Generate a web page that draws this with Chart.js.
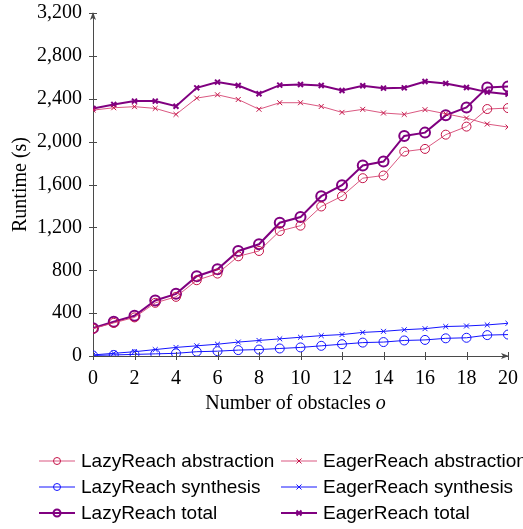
<!DOCTYPE html>
<html>
<head>
<meta charset="utf-8">
<script src="https://cdn.jsdelivr.net/npm/chart.js@4.4.1/dist/chart.umd.min.js"></script>
<style>
  html, body { margin: 0; padding: 0; background: #fff; }
  #wrap { width: 523px; height: 529px; }
</style>
</head>
<body>
<div id="wrap"><canvas id="mycanvas" width="523" height="529"></canvas></div>
<script>
// values
var obstacles = [0, 1, 2, 3, 4, 5, 6, 7, 8, 9, 10, 11, 12, 13, 14, 15, 16, 17, 18, 19, 20];
var lazyAbs = [255, 309, 360, 496, 552, 707, 769, 930, 980, 1166, 1216, 1395, 1491, 1659, 1684, 1907, 1932, 2065, 2140, 2304, 2313];
var lazySyn = [5, 10, 15, 20, 25, 40, 45, 55, 60, 70, 80, 95, 110, 125, 130, 145, 150, 165, 170, 195, 200];
var lazyTot = [260, 319, 375, 518, 580, 744, 809, 980, 1042, 1243, 1296, 1491, 1594, 1777, 1814, 2053, 2084, 2245, 2319, 2505, 2514];
var eagerAbs = [2294, 2316, 2326, 2310, 2254, 2406, 2437, 2393, 2302, 2363, 2363, 2328, 2273, 2301, 2267, 2254, 2298, 2260, 2220, 2164, 2136];
var eagerSyn = [10, 25, 40, 60, 80, 95, 110, 130, 145, 160, 175, 190, 200, 220, 230, 245, 255, 275, 280, 290, 305];
var eagerTot = [2310, 2347, 2378, 2378, 2330, 2502, 2555, 2524, 2447, 2527, 2533, 2524, 2477, 2521, 2499, 2502, 2561, 2543, 2505, 2462, 2443];
var yTicks = [0, 400, 800, 1200, 1600, 2000, 2400, 2800, 3200];
var xTicks = [0, 2, 4, 6, 8, 10, 12, 14, 16, 18, 20];

var RED = 'rgb(196,20,72)', RED_LINE = 'rgba(214,70,115,0.9)';
var BLUE = 'rgb(20,20,255)';
var PURPLE = 'rgb(128,0,128)';
var AXIS = '#4a4a4a';

function pts(vals) {
    var out = [];
    for (var i in vals) out.push({x: obstacles[i], y: vals[i]});
    return out;
}

function ds(label, vals, line, mark, style, width, radius) {
    return {
        label: label,
        data: pts(vals),
        borderColor: line,
        borderWidth: width,
        pointStyle: style,
        pointRadius: radius,
        pointBorderColor: mark,
        pointBorderWidth: width,
        pointBackgroundColor: 'rgba(0,0,0,0)',
        fill: false,
        tension: 0
    };
}

var datasets = [
    ds('LazyReach abstraction', lazyAbs, RED_LINE, RED, 'circle', 1, 4.5),
    ds('EagerReach abstraction', eagerAbs, RED_LINE, RED, 'crossRot', 1, 3.5),
    ds('LazyReach synthesis', lazySyn, BLUE, BLUE, 'circle', 1, 4.5),
    ds('EagerReach synthesis', eagerSyn, BLUE, BLUE, 'crossRot', 1, 3.5),
    ds('LazyReach total', lazyTot, PURPLE, PURPLE, 'circle', 2, 5),
    ds('EagerReach total', eagerTot, PURPLE, PURPLE, 'crossRot', 2, 3.5)
];

// legend entries in the order of the two-column reference legend
var legendRows = [
    [0, 1],
    [2, 3],
    [4, 5]
];

var decor = {
    id: 'decor',
    afterDraw: function(chart) {
        var ctx = chart.ctx;
        var xs = chart.scales.x, ys = chart.scales.y;
        var x0 = xs.getPixelForValue(0), yb = ys.getPixelForValue(0);
        var ytop = ys.getPixelForValue(3200), xr = xs.getPixelForValue(20);
        ctx.save();
        ctx.strokeStyle = AXIS;
        ctx.fillStyle = AXIS;
        ctx.lineWidth = 1;
        // tick marks crossing the axes
        ctx.beginPath();
        yTicks.forEach(function(v) {
            var p = Math.round(ys.getPixelForValue(v)) + 0.5;
            ctx.moveTo(x0 - 4, p); ctx.lineTo(x0 + 4, p);
        });
        xTicks.forEach(function(v) {
            var p = Math.round(xs.getPixelForValue(v)) + 0.5;
            ctx.moveTo(p, yb - 4); ctx.lineTo(p, yb + 4);
        });
        ctx.stroke();
        // arrow heads
        ctx.beginPath();
        ctx.moveTo(x0, ytop - 1);
        ctx.lineTo(x0 - 3, ytop + 7);
        ctx.lineTo(x0, ytop + 5);
        ctx.lineTo(x0 + 3, ytop + 7);
        ctx.closePath();
        ctx.fill();
        ctx.beginPath();
        ctx.moveTo(xr + 1, yb);
        ctx.lineTo(xr - 7, yb - 3);
        ctx.lineTo(xr - 5, yb);
        ctx.lineTo(xr - 7, yb + 3);
        ctx.closePath();
        ctx.fill();

        // x axis title with italic o
        var t1 = 'Number of obstacles ', t2 = 'o';
        ctx.fillStyle = '#000';
        ctx.textBaseline = 'middle';
        ctx.font = '20px "Liberation Serif"';
        var w1 = ctx.measureText(t1).width;
        ctx.font = 'italic 20px "Liberation Serif"';
        var w2 = ctx.measureText(t2).width;
        var cx = (chart.chartArea.left + chart.chartArea.right) / 2 - 5;
        var sx = cx - (w1 + w2) / 2;
        ctx.font = '20px "Liberation Serif"';
        ctx.textAlign = 'left';
        ctx.fillText(t1, sx, 404);
        ctx.font = 'italic 20px "Liberation Serif"';
        ctx.fillText(t2, sx + w1, 404);

        // legend
        var colX = [39, 281], rowY = [461, 487, 513];
        ctx.font = '19px "Liberation Sans"';
        legendRows.forEach(function(row, r) {
            row.forEach(function(idx, c) {
                var d = chart.data.datasets[idx];
                var lx = colX[c], ly = rowY[r];
                ctx.strokeStyle = d.borderColor;
                ctx.lineWidth = d.borderWidth;
                ctx.beginPath();
                ctx.moveTo(lx, ly); ctx.lineTo(lx + 36, ly);
                ctx.stroke();
                ctx.strokeStyle = d.pointBorderColor;
                ctx.beginPath();
                var mx = lx + 18, rr = 3.5;
                if (d.pointStyle === 'circle') {
                    ctx.arc(mx, ly, rr, 0, Math.PI * 2);
                } else {
                    ctx.moveTo(mx - 2.5, ly - 2.5); ctx.lineTo(mx + 2.5, ly + 2.5);
                    ctx.moveTo(mx + 2.5, ly - 2.5); ctx.lineTo(mx - 2.5, ly + 2.5);
                }
                ctx.stroke();
                ctx.fillStyle = '#000';
                ctx.fillText(d.label, lx + 42, ly + 1);
            });
        });
        ctx.restore();
    }
};

var ctx = document.getElementById('mycanvas');
var LineGraph = new Chart(ctx, {
    type: 'line',
    data: { datasets: datasets },
    options: {
        responsive: false,
        devicePixelRatio: 1,
        animation: false,
        layout: { padding: { left: 0, right: 15, top: 13, bottom: 120 } },
        plugins: { legend: { display: false }, tooltip: { enabled: false } },
        scales: {
            x: {
                type: 'linear',
                min: 0,
                max: 20,
                afterFit: function(s) { s.height = 53; s.paddingLeft = 0; s.paddingRight = 0; },
                afterBuildTicks: function(s) { s.ticks = xTicks.map(function(v) { return {value: v}; }); },
                grid: { display: false, drawTicks: false },
                border: { display: true, color: AXIS, width: 1 },
                ticks: { padding: 11, color: '#000', font: { family: 'Liberation Serif', size: 20 }, maxRotation: 0 }
            },
            y: {
                min: 0,
                max: 3200,
                afterFit: function(s) { s.width = 93; s.paddingTop = 0; s.paddingBottom = 0; },
                afterBuildTicks: function(s) { s.ticks = yTicks.map(function(v) { return {value: v}; }); },
                grid: { display: false, drawTicks: false },
                border: { display: true, color: AXIS, width: 1 },
                ticks: {
                    padding: 11,
                    color: '#000',
                    font: { family: 'Liberation Serif', size: 20 },
                    callback: function(v) { return v.toLocaleString('en-US'); }
                },
                title: {
                    display: true,
                    text: 'Runtime (s)',
                    color: '#000',
                    font: { family: 'Liberation Serif', size: 20 },
                    padding: { top: 9, bottom: 0 }
                }
            }
        }
    },
    plugins: [decor]
});
</script>
</body>
</html>
